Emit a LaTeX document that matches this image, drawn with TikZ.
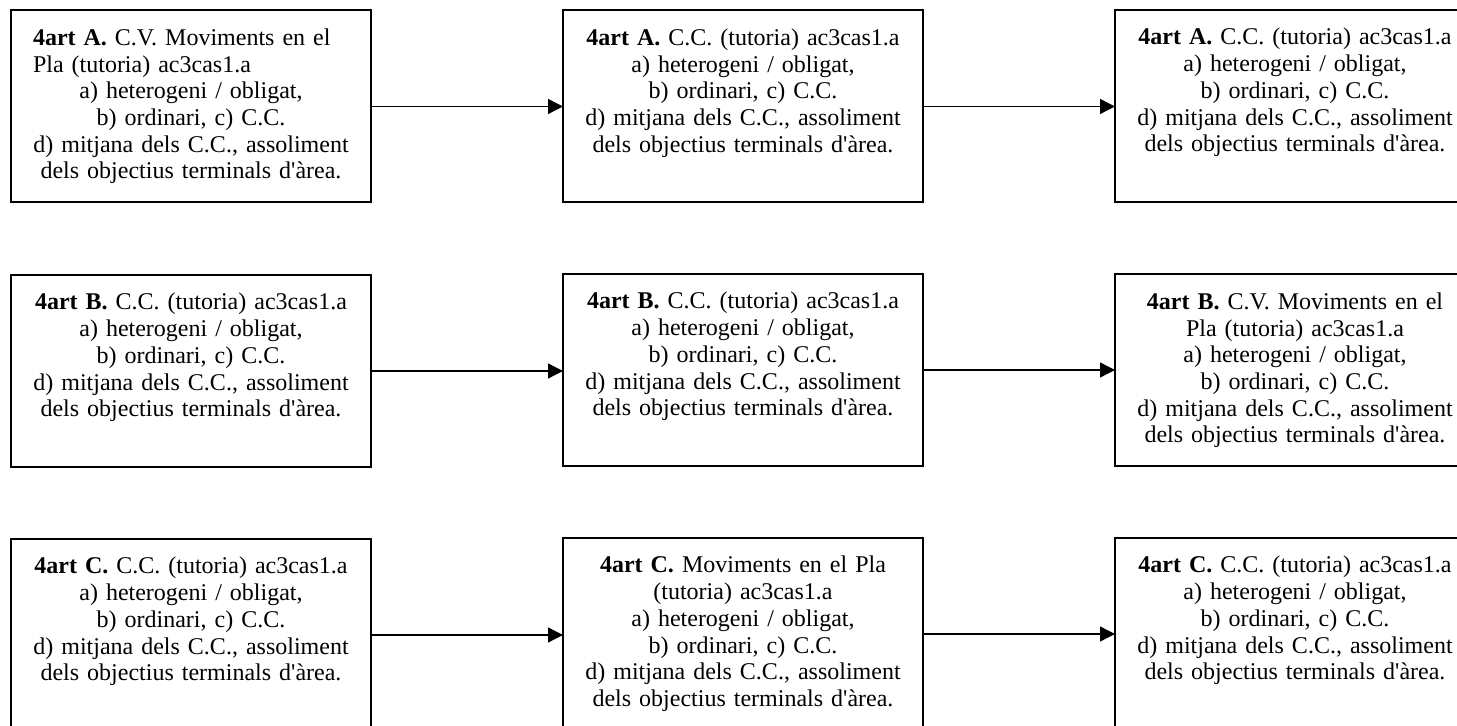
\documentclass[tikz,border=0pt]{standalone}
\usepackage{fontspec}
\setmainfont{Liberation Serif}
\usetikzlibrary{calc,arrows.meta}
\begin{document}
\begin{tikzpicture}[x=0.5pt,y=-0.5pt,
  box/.style={draw=black,line width=1pt,rectangle,inner sep=0pt,outer sep=0pt,
    minimum width=180pt,minimum height=96pt},
  txt/.style={anchor=north,inner sep=0pt,outer sep=0pt,text width=170pt,
    font=\fontsize{12}{13.35}\selectfont},
  conn/.style={line width=0.65pt,-{Triangle[length=7.5pt,width=7.5pt]}}]
\useasboundingbox (0,0) rectangle (1457,726);
\clip (0,0) rectangle (1457,726);
\newcommand{\fl}{\rule{0pt}{10pt}}
\newcommand{\restlines}{a) heterogeni / obligat,\\ b) ordinari, c) C.C.\\ d) mitjana dels C.C., assoliment\\ dels objectius terminals d\textquotesingle àrea.\par}
% row 1
\node[box] (a1) at (191,106.5) {};
\node[box] (a2) at (743,106.5) {};
\node[box] (a3) at (1295,106) {};
\node[txt] (ta1) at ($(a1.north)+(0,15)$) {\raggedright\leftskip=6pt\fl\textbf{4art A.} C.V. Moviments en el\\ Pla (tutoria) ac3cas1.a\par\centering \restlines};
\node[txt] (ta2) at ($(a2.north)+(0,15)$) {\centering\fl\textbf{4art A.} C.C. (tutoria) ac3cas1.a\\ \restlines};
\node[txt] (ta3) at ($(a3.north)+(0,15)$) {\centering\fl\textbf{4art A.} C.C. (tutoria) ac3cas1.a\\ \restlines};
% row 2
\node[box] (b1) at (191,371) {};
\node[box] (b2) at (743,370) {};
\node[box] (b3) at (1295,370.5) {};
\node[txt] (tb1) at ($(b1.north)+(0,15)$) {\centering\fl\textbf{4art B.} C.C. (tutoria) ac3cas1.a\\ \restlines};
\node[txt] (tb2) at ($(b2.north)+(0,15)$) {\centering\fl\textbf{4art B.} C.C. (tutoria) ac3cas1.a\\ \restlines};
\node[txt] (tb3) at ($(b3.north)+(0,15)$) {\centering\fl\textbf{4art B.} C.V. Moviments en el\\ Pla (tutoria) ac3cas1.a\\ \restlines};
% row 3
\node[box] (c1) at (191,635) {};
\node[box] (c2) at (743,634) {};
\node[box] (c3) at (1295,634) {};
\node[txt] (tc1) at ($(c1.north)+(0,15)$) {\centering\fl\textbf{4art C.} C.C. (tutoria) ac3cas1.a\\ \restlines};
\node[txt] (tc2) at ($(c2.north)+(0,15)$) {\centering\fl\textbf{4art C.} Moviments en el Pla\\ (tutoria) ac3cas1.a\\ \restlines};
\node[txt] (tc3) at ($(c3.north)+(0,15)$) {\centering\fl\textbf{4art C.} C.C. (tutoria) ac3cas1.a\\ \restlines};
% connectors
\draw[conn] (a1.east) -- (a1.east -| a2.west);
\draw[conn] (a2.east) -- (a2.east -| a3.west);
\draw[conn] (b1.east) -- (b1.east -| b2.west);
\draw[conn] (b2.east) -- (b2.east -| b3.west);
\draw[conn] (c1.east) -- (c1.east -| c2.west);
\draw[conn] (c2.east) -- (c2.east -| c3.west);
\end{tikzpicture}
\end{document}
